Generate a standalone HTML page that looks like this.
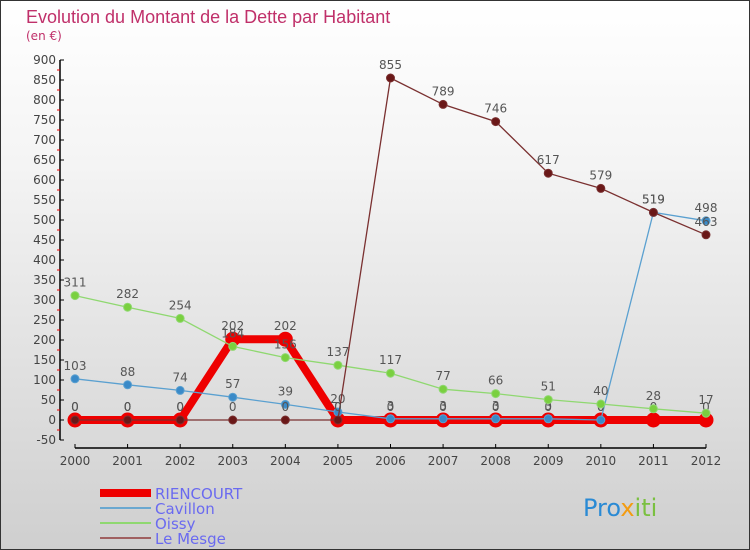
<!DOCTYPE html>
<html><head><meta charset="utf-8"><style>
html,body{margin:0;padding:0}
body{width:750px;height:550px;overflow:hidden;font-family:"DejaVu Sans","Liberation Sans",sans-serif}
#wrap{position:absolute;left:0;top:0;width:748px;height:548px;border:1px solid #333;background:linear-gradient(#fff,#f4f4f4 30%,#cfcfcf)}
</style></head><body>
<div id="wrap">
<svg id="chart" width="750" height="550" style="position:absolute;left:-1px;top:-1px">
<text x="26" y="23" font-size="18" fill="#c0306a" font-family="Liberation Sans, sans-serif">Evolution du Montant de la Dette par Habitant</text>
<text x="26" y="40" font-size="12" fill="#c0306a">(en €)</text>
<g id="axes"></g><g id="series"></g><g id="legend"></g>
<text x="583" y="516" font-size="24" fill="#2a8ad4">Pro<tspan fill="#f39c12">x</tspan><tspan fill="#7ac040">iti</tspan></text>
</svg></div>
<script>
const years=[2000,2001,2002,2003,2004,2005,2006,2007,2008,2009,2010,2011,2012];
const yTicks=[-50,0,50,100,150,200,250,300,350,400,450,500,550,600,650,700,750,800,850,900];
const riencourt=[0,0,0,202,202,0,0,0,0,0,0,0,0];
const cavillon=[103,88,74,57,39,20,3,3,3,3,0,519,498];
const oissy=[311,282,254,184,156,137,117,77,66,51,40,28,17];
const leMesge=[0,0,0,0,0,0,855,789,746,617,579,519,463];
const NS="http://www.w3.org/2000/svg";
function X(i){return 75+i*(706-75)/12;}
function Y(v){return 420-v*0.4;}
function mk(t,a,p){const e=document.createElementNS(NS,t);for(const k in a)e.setAttribute(k,a[k]);(p||document.getElementById('series')).appendChild(e);return e;}
const ax=document.getElementById('axes');
let e=mk('line',{x1:60,y1:60,x2:60,y2:440,stroke:'#000','stroke-width':1.5},ax);

e=mk('line',{x1:75,y1:448,x2:706,y2:448,stroke:'#000','stroke-width':1.5},ax);

yTicks.forEach(v=>{mk('line',{x1:60,y1:Y(v),x2:64,y2:Y(v),stroke:'#000'},ax);
if(v>-50)mk('line',{x1:57,y1:Y(v)+10,x2:60,y2:Y(v)+10,stroke:'#e00'},ax);
const t=mk('text',{x:56,y:Y(v)+4,'text-anchor':'end','font-size':12,fill:'#444'},ax);t.textContent=v;
});
years.forEach((y,i)=>{mk('line',{x1:X(i),y1:444,x2:X(i),y2:448,stroke:'#000'},ax);
const t=mk('text',{x:X(i),y:465,'text-anchor':'middle','font-size':12,fill:'#444'},ax);t.textContent=y;
});
function series(d,col,w,r,dot,name){
const pts=d.map((v,i)=>X(i)+','+Y(v)).join(' ');
const l=mk('polyline',{points:pts,fill:'none',stroke:col,'stroke-width':w});

d.forEach((v,i)=>{const c=mk('circle',{cx:X(i),cy:Y(v),r:r,fill:dot,stroke:col,'stroke-width':1});

const t=mk('text',{x:X(i),y:Y(v)-9,'text-anchor':'middle','font-size':12,fill:'#555'});t.textContent=v;
});
}
series(riencourt,'#e00',8,7,'#e00','riencourt');
series(cavillon,'#5aa0d0',1.3,4,'#3a8ac8','cavillon');
series(oissy,'#8fd870',1.3,4,'#7ad040','oissy');
series(leMesge,'#7a3030',1.3,4,'#6a1818','le-mesge');
const lg=document.getElementById('legend');
[['RIENCOURT','#e00',8],['Cavillon','#6aa8d0',2],['Oissy','#8fd870',2],['Le Mesge','#a06060',2]].forEach((s,i)=>{
const y=493+i*15;
const l=mk('line',{x1:100,y1:y,x2:151,y2:y,stroke:s[1],'stroke-width':s[2]},lg);

const t=mk('text',{x:155,y:y+6,'font-size':15,fill:'#6a6af0'},lg);t.textContent=s[0];
});
</script>
</body></html>
